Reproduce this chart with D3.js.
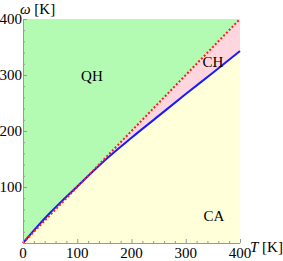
<!DOCTYPE html>
<html>
<head>
<meta charset="utf-8">
<script src="https://cdn.jsdelivr.net/npm/d3@7"></script>
<style>
  body { margin: 0; background: #fff; }
  text { font-family: "Liberation Serif", "DejaVu Serif", serif; }
</style>
</head>
<body>
<div id="chart"></div>
<script>
// boundary QH/CH: omega = T (red dotted)
const redT = [0, 400]
const redW = [0, 400]
// boundary CH/CA (blue)
const blueT = [0, 25, 50, 75, 100, 150, 200, 250, 300, 350, 400]
const blueW = [0, 28, 54, 78, 101, 147, 188, 227, 266, 304, 343]
const tickValues = [0, 100, 200, 300, 400]
const regionLabels = ['QH', 'CH', 'CA']
const regionPos = [[127, 298], [350, 323], [352, 48]]

const width = 283
const height = 261
const margin = { top: 19, right: 43, bottom: 18, left: 23 }
const fs = 15

const svg = d3.select('#chart')
  .append('svg')
  .attr('width', width)
  .attr('height', height)

const xScale = d3.scaleLinear().domain([0, 400]).range([margin.left, width - margin.right])
const yScale = d3.scaleLinear().domain([0, 400]).range([height - margin.bottom, margin.top])

const blue = blueT.map((t, i) => ({ t, w: blueW[i] }))
const red = redT.map((t, i) => ({ t, w: redW[i] }))

// yellow below blue
svg.append('path')
  .attr('d', d3.area().x(d => xScale(d.t)).y0(yScale(0)).y1(d => yScale(d.w))(blue))
  .attr('fill', '#ffffd9')

// pink between blue and red
svg.append('path')
  .attr('d', d3.area().x(d => xScale(d.t)).y0(d => yScale(d.w)).y1(d => yScale(d.t))(blue))
  .attr('fill', '#ffd6dd')

// green above red
svg.append('path')
  .attr('d', d3.area().x(d => xScale(d.t)).y0(d => yScale(d.w)).y1(yScale(400))(red))
  .attr('fill', '#b3fbb3')

const line = d3.line().x(d => xScale(d.t)).y(d => yScale(d.w)).curve(d3.curveMonotoneX)

svg.append('path')
  .attr('d', line(blue))
  .attr('fill', 'none')
  .attr('stroke', '#1a1aff')
  .attr('stroke-width', 2)

svg.append('path')
  .attr('d', line(red))
  .attr('fill', 'none')
  .attr('stroke', '#ff1a1a')
  .attr('stroke-width', 2)
  .attr('stroke-dasharray', '2,2')

// axes
const axisColor = '#999'
const minor = d3.range(0, 401, 20)

const gx = svg.append('g')
gx.append('line')
  .attr('x1', xScale(0)).attr('x2', xScale(400))
  .attr('y1', yScale(0) + 0.5).attr('y2', yScale(0) + 0.5)
  .attr('stroke', axisColor)
gx.selectAll('.tk').data(minor).join('line')
  .attr('x1', d => xScale(d) + 0.5).attr('x2', d => xScale(d) + 0.5)
  .attr('y1', yScale(0)).attr('y2', d => yScale(0) - (d % 100 === 0 ? 4 : 2))
  .attr('stroke', axisColor)
gx.selectAll('.lb').data(tickValues).join('text')
  .attr('x', d => xScale(d))
  .attr('y', yScale(0) + 15)
  .attr('text-anchor', 'middle')
  .attr('font-size', fs)
  .text(d => d)

const gy = svg.append('g')
gy.append('line')
  .attr('x1', xScale(0) + 0.5).attr('x2', xScale(0) + 0.5)
  .attr('y1', yScale(0)).attr('y2', yScale(400))
  .attr('stroke', axisColor)
gy.selectAll('.tk').data(minor).join('line')
  .attr('y1', d => yScale(d) + 0.5).attr('y2', d => yScale(d) + 0.5)
  .attr('x1', xScale(0)).attr('x2', d => xScale(0) + (d % 100 === 0 ? 4 : 2))
  .attr('stroke', axisColor)
gy.selectAll('.lb').data(tickValues.slice(1)).join('text')
  .attr('x', xScale(0) - 1)
  .attr('y', d => yScale(d) + 5)
  .attr('text-anchor', 'end')
  .attr('font-size', fs)
  .text(d => d)

// axis titles
const yt = svg.append('text').attr('x', 20).attr('y', 14).attr('font-size', fs)
yt.append('tspan').attr('font-style', 'italic').text('ω')
yt.append('tspan').text(' [K]')

const xt = svg.append('text').attr('x', 250).attr('y', 252).attr('font-size', fs)
xt.append('tspan').attr('font-style', 'italic').text('T')
xt.append('tspan').text(' [K]')

// region labels
svg.selectAll('.region').data(regionLabels).join('text')
  .attr('x', (d, i) => xScale(regionPos[i][0]))
  .attr('y', (d, i) => yScale(regionPos[i][1]) + 5)
  .attr('text-anchor', 'middle')
  .attr('font-size', fs)
  .text(d => d)
</script>
</body>
</html>
